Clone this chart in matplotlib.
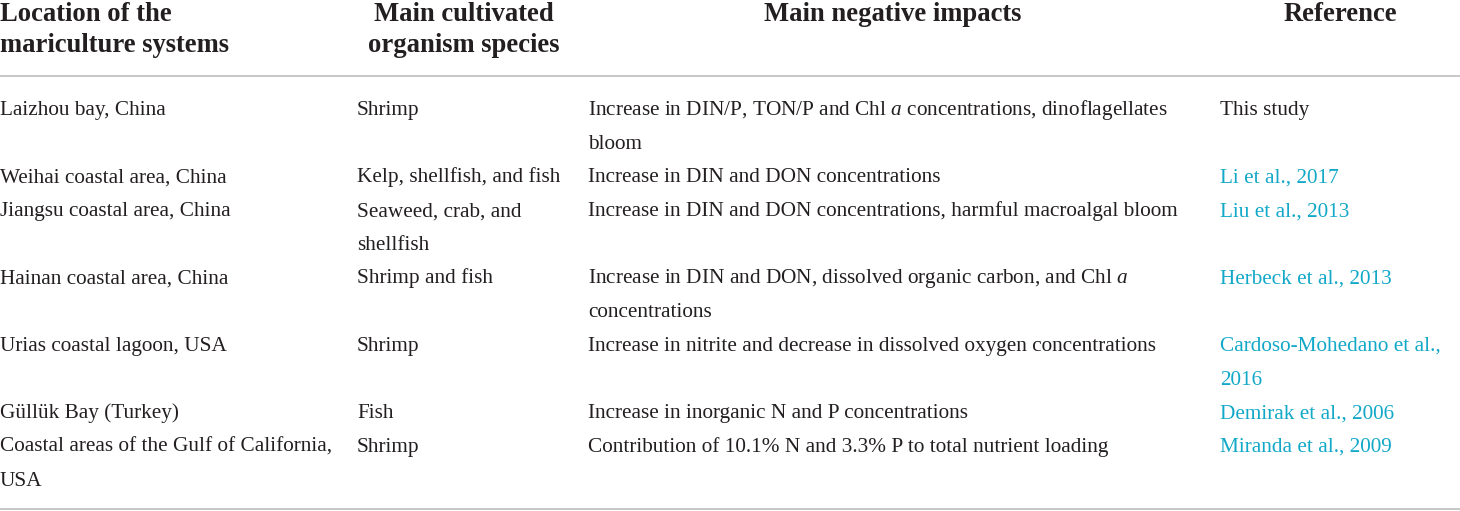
import matplotlib.pyplot as plt

plt.rcParams['font.family'] = ['Liberation Serif', 'DejaVu Serif']
plt.rcParams['mathtext.fontset'] = 'custom'
plt.rcParams['mathtext.it'] = 'Liberation Serif:italic'
plt.rcParams['mathtext.rm'] = 'Liberation Serif'

# datos de la tabla
headers = ['Location of the\nmariculture systems',
           'Main cultivated\norganism species',
           'Main negative impacts',
           'Reference']

locations = ['Laizhou bay, China',
             'Weihai coastal area, China',
             'Jiangsu coastal area, China',
             'Hainan coastal area, China',
             'Urias coastal lagoon, USA',
             'Güllük Bay (Turkey)',
             'Coastal areas of the Gulf of California,\nUSA']

species = ['Shrimp',
           'Kelp, shellfish, and fish',
           'Seaweed, crab, and\nshellfish',
           'Shrimp and fish',
           'Shrimp',
           'Fish',
           'Shrimp']

impacts = ['Increase in DIN/P, TON/P and Chl $a$ concentrations, dinoflagellates\nbloom',
           'Increase in DIN and DON concentrations',
           'Increase in DIN and DON concentrations, harmful macroalgal bloom',
           'Increase in DIN and DON, dissolved organic carbon, and Chl $a$\nconcentrations',
           'Increase in nitrite and decrease in dissolved oxygen concentrations',
           'Increase in inorganic N and P concentrations',
           'Contribution of 10.1% N and 3.3% P to total nutrient loading']

references = ['This study',
              'Li et al., 2017',
              'Liu et al., 2013',
              'Herbeck et al., 2013',
              'Cardoso-Mohedano et al.,\n2016',
              'Demirak et al., 2006',
              'Miranda et al., 2009']

ref_is_link = [False, True, True, True, True, True, True]

# posiciones de columnas (px)
col_x = [0, 357, 588, 1220]
col_center = [0, 464, 893, 1340]
header_align = ['left', 'center', 'center', 'center']

fig = plt.figure(figsize=(14.6, 5.11), dpi=100)
ax = fig.add_axes([0, 0, 1, 1])
ax.set_xlim(0, 1460)
ax.set_ylim(511, 0)
ax.axis('off')

line_h = 33.7
body_size = 15.3
head_size = 19.2
text_color = '#231f20'
link_color = '#12a8c8'

# encabezados
for i, h in enumerate(headers):
    for k, linea in enumerate(h.split('\n')):
        ax.text(col_center[i], 21 + 31 * k, linea, ha=header_align[i], va='baseline',
                fontsize=head_size, fontweight='bold', color=text_color)

ax.plot([0, 1460], [76, 76], color='#bdbdbd', lw=1.2)
ax.plot([0, 1460], [509, 509], color='#bdbdbd', lw=1.2)

# filas
y = 115
for r in range(len(locations)):
    cells = [locations[r], species[r], impacts[r], references[r]]
    n_lines = max(c.count('\n') + 1 for c in cells)
    for i, c in enumerate(cells):
        color = link_color if (i == 3 and ref_is_link[r]) else text_color
        for k, linea in enumerate(c.split('\n')):
            ax.text(col_x[i], y + line_h * k, linea, ha='left', va='baseline',
                    fontsize=body_size, color=color)
    y += line_h * n_lines

fig.savefig('out.png', dpi=100)
